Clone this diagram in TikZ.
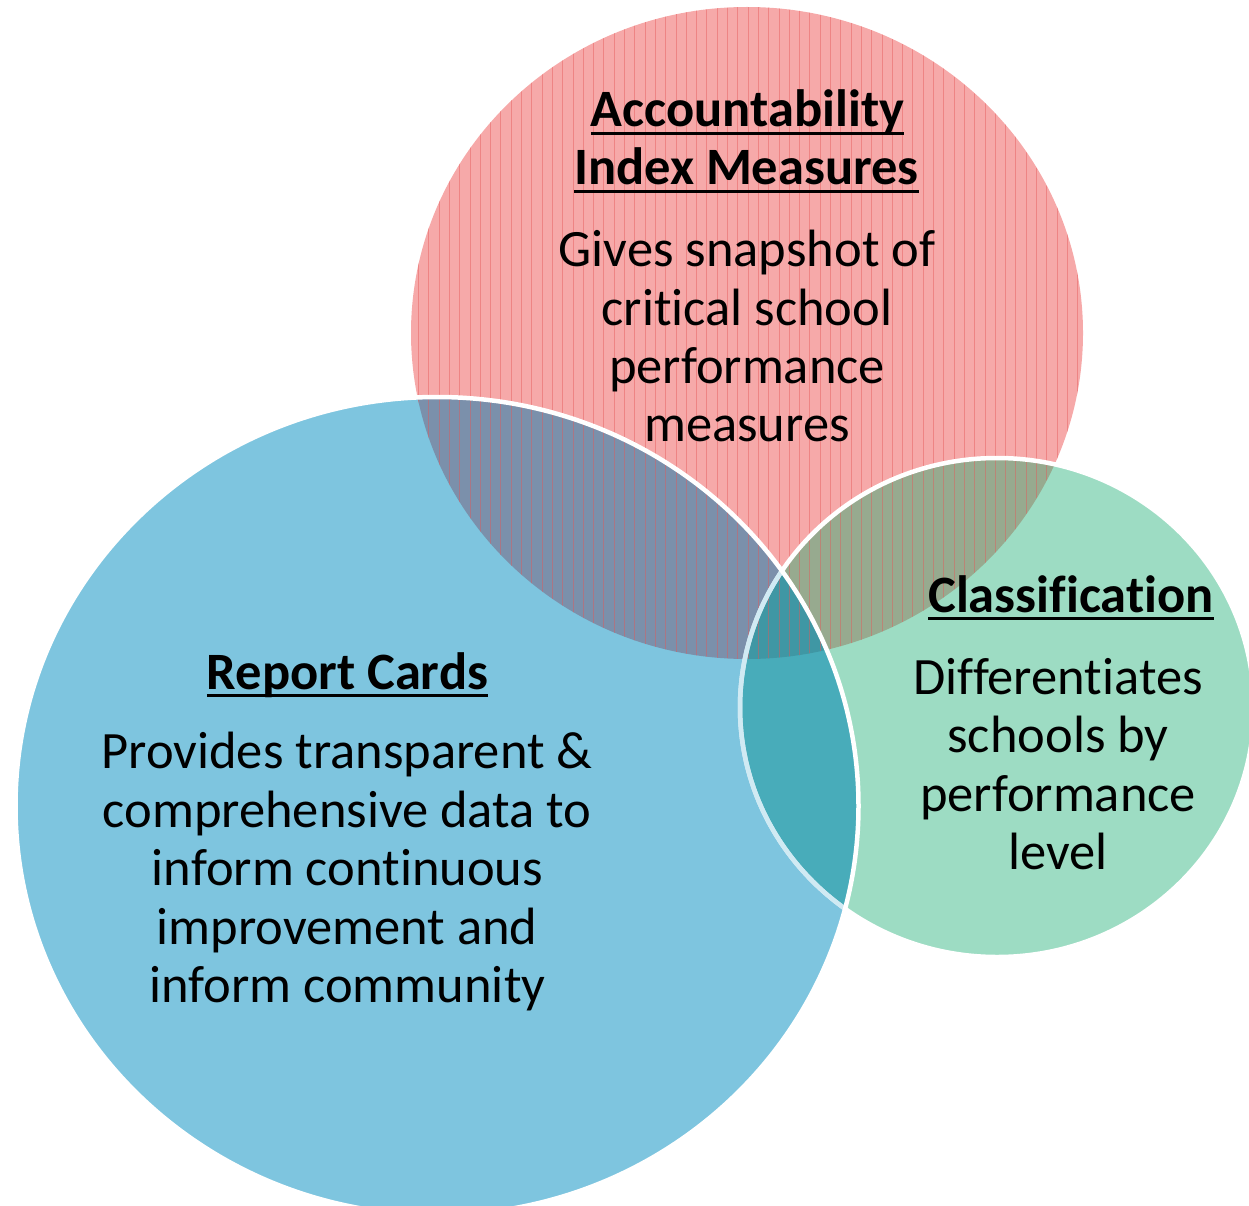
\documentclass[tikz,border=0pt]{standalone}
\usepackage{fontspec}
\setmainfont{Carlito}[Ligatures={NoCommon}]
\newcommand\myul[1]{\setbox0=\hbox{#1}\rlap{\rule[-8pt]{\wd0}{3.2pt}}\box0}
\definecolor{redC}{HTML}{F6A9A9}
\definecolor{stripeC}{HTML}{E55858}
\definecolor{blueC}{HTML}{7EC5DF}
\definecolor{greenC}{HTML}{9DDCC3}
\definecolor{rbC}{HTML}{7B90AB}
\definecolor{rgC}{HTML}{97AA8F}
\definecolor{bgC}{HTML}{48ACBA}
\definecolor{rbgC}{HTML}{3F97A4}
\begin{document}
\begin{tikzpicture}[x=1pt,y=-1pt,
  txt/.style={font=\fontsize{52.5}{58.5}\selectfont, inner sep=0pt, anchor=base, text=black},
  hd/.style={txt, font=\fontsize{52.5}{58.5}\selectfont\bfseries},
  rim/.style={draw=white, line width=4.5pt},
  stripe/.style={draw=stripeC, line width=1pt, opacity=0.45}]
\useasboundingbox (0,0) rectangle (1249,1206);
\def\redE{(747,333) ellipse [x radius=336, y radius=326]}
\def\blueE{(437,806) ellipse [x radius=421.5, y radius=409]}
\def\greenE{(997,707.5) ellipse [x radius=257, y radius=249.5]}
% base fills
\fill[redC] \redE;
\fill[greenC] \greenE;
\fill[blueC] \blueE;
% overlaps
\begin{scope}
  \clip \redE;
  \fill[rbC] \blueE;
  \fill[rgC] \greenE;
\end{scope}
\begin{scope}
  \clip \blueE;
  \fill[bgC] \greenE;
\end{scope}
\begin{scope}
  \clip \redE;
  \clip \blueE;
  \fill[rbgC] \greenE;
\end{scope}
% vertical stripes of the red circle
\begin{scope}
  \clip \redE;
  \foreach \sx in {0,...,67}{
    \draw[stripe] (418.5+10.3*\sx,0) -- (418.5+10.3*\sx,670);
  }
\end{scope}
% outlines
\draw[rim] \greenE;
\begin{scope}
  \clip \blueE;
  \draw[draw=blueC!45!white, line width=4.5pt, opacity=0.8] \greenE;
\end{scope}
\draw[rim] \blueE;
% texts
\node[hd] (acc1) at (747.5,127) {\myul{Accountability}};
\node[hd] (acc2) at (746.5,185) {\myul{Index Measures}};
\node[txt] (g1) at (747,266) {Gives snapshot of};
\node[txt] (g2) at (747,325) {critical school};
\node[txt] (g3) at (747,383) {performance};
\node[txt] (g4) at (747,441) {measures};
\node[hd] (cls) at (1071,612) {\myul{Classification}};
\node[txt] (c1) at (1058,694) {Differentiates};
\node[txt] (c2) at (1058,752) {schools by};
\node[txt] (c3) at (1058,811) {performance};
\node[txt] (c4) at (1058,869) {level};
\node[hd] (rep) at (347.5,689) {\myul{Report Cards}};
\node[txt] (r1) at (347,768) {Provides transparent \&};
\node[txt] (r2) at (347,827) {comprehensive data to};
\node[txt] (r3) at (347.5,885) {inform continuous};
\node[txt] (r4) at (347,944) {improvement and};
\node[txt] (r5) at (347.5,1002) {inform community};
\end{tikzpicture}
\end{document}
